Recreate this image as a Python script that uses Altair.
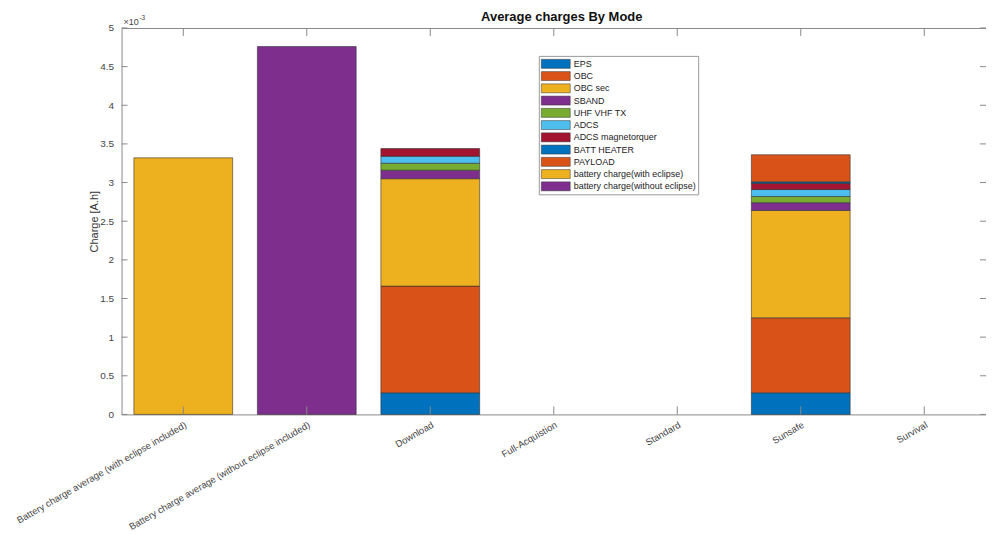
import altair as alt
import pandas as pd

# categories (x axis)
modes = [
    "Battery charge average (with eclipse included)",
    "Battery charge average (without eclipse included)",
    "Download",
    "Full-Acquistion",
    "Standard",
    "Sunsafe",
    "Survival",
]

# series names (legend order / stack order)
series = [
    "EPS", "OBC", "OBC sec", "SBAND", "UHF VHF TX", "ADCS",
    "ADCS magnetorquer", "BATT HEATER", "PAYLOAD",
    "battery charge(with eclipse)", "battery charge(without eclipse)",
]

# MATLAB default colour order (repeats after 7)
colors = [
    "#0072BD", "#D95319", "#EDB120", "#7E2F8E", "#77AC30", "#4DBEEE",
    "#A2142F", "#0072BD", "#D95319", "#EDB120", "#7E2F8E",
]

# values in units of 1e-3 A.h, one list per series, aligned with modes
eps          = [0.00, 0.00, 0.28, 0.0, 0.0, 0.28, 0.0]
obc          = [0.00, 0.00, 1.38, 0.0, 0.0, 0.97, 0.0]
obc_sec      = [0.00, 0.00, 1.39, 0.0, 0.0, 1.39, 0.0]
sband        = [0.00, 0.00, 0.11, 0.0, 0.0, 0.10, 0.0]
uhf_vhf      = [0.00, 0.00, 0.09, 0.0, 0.0, 0.08, 0.0]
adcs         = [0.00, 0.00, 0.09, 0.0, 0.0, 0.09, 0.0]
adcs_mag     = [0.00, 0.00, 0.10, 0.0, 0.0, 0.08, 0.0]
batt_heater  = [0.00, 0.00, 0.00, 0.0, 0.0, 0.02, 0.0]
payload      = [0.00, 0.00, 0.00, 0.0, 0.0, 0.35, 0.0]
batt_with    = [3.32, 0.00, 0.00, 0.0, 0.0, 0.00, 0.0]
batt_without = [0.00, 4.76, 0.00, 0.0, 0.0, 0.00, 0.0]

y_ticks = [0, 0.5, 1, 1.5, 2, 2.5, 3, 3.5, 4, 4.5, 5]

chart_title = "Average charges By Mode"
y_title = "Charge [A.h]"

all_values = [eps, obc, obc_sec, sband, uhf_vhf, adcs, adcs_mag,
              batt_heater, payload, batt_with, batt_without]

rows = []
for si, (name, vals) in enumerate(zip(series, all_values)):
    for m, v in zip(modes, vals):
        if v > 0:
            rows.append({"mode": m, "series": name, "value": v, "order": si})
df = pd.DataFrame(rows)

W, H = 868, 388
FONT = "Liberation Sans"

x_scale = alt.Scale(domain=modes, paddingInner=0.2, paddingOuter=0.1)
y_scale = alt.Scale(domain=[0, 5], nice=False, zero=True)

x_axis = alt.Axis(title=None, labelAngle=330, labelAlign="right",
                  labelBaseline="top", labelPadding=5, labelFontSize=9.5,
                  labelColor="#444444", labelFont=FONT, labelLimit=400,
                  labelOverlap=False, ticks=False, domain=False, grid=False)
y_axis = alt.Axis(title=y_title, values=y_ticks,
                  labelExpr="datum.value", labelPadding=8,
                  labelOverlap=False, labelFlush=False,
                  labelFontSize=10, labelColor="#444444",
                  labelFont=FONT, titleFont=FONT, titleFontSize=11,
                  titleFontWeight="normal", titleColor="#333333",
                  titlePadding=0, ticks=False, domain=False, grid=False)

bars = alt.Chart(df).mark_bar(stroke="#333333", strokeWidth=0.6).encode(
    x=alt.X("mode:N", scale=x_scale, sort=modes, axis=x_axis),
    y=alt.Y("value:Q", scale=y_scale, stack="zero", axis=y_axis),
    color=alt.Color("series:N",
                    scale=alt.Scale(domain=series, range=colors),
                    legend=alt.Legend(
                        title=None, orient="none", legendX=419, legendY=28,
                        symbolType="M-2.64,-0.82H2.64V0.82H-2.64Z",
                        symbolSize=121, symbolStrokeColor="#333333",
                        symbolStrokeWidth=0.5, symbolOpacity=1,
                        symbolOffset=9, labelOffset=12,
                        labelFontSize=9, labelFont=FONT,
                        labelColor="#222222", rowPadding=0.3, padding=2,
                        strokeColor="#999999", fillColor="white")),
    order=alt.Order("order:Q", sort="ascending"),
)

ytick_df = pd.DataFrame({"tick": y_ticks})
xtick_df = pd.DataFrame({"mode": modes})

ytick_left = alt.Chart(ytick_df).mark_rule(color="#888888").encode(
    y=alt.Y("tick:Q", scale=y_scale, axis=y_axis),
    x=alt.value(0), x2=alt.value(6))
ytick_right = alt.Chart(ytick_df).mark_rule(color="#888888").encode(
    y=alt.Y("tick:Q", scale=y_scale, axis=y_axis),
    x=alt.value(W - 6), x2=alt.value(W))
xtick_bottom = alt.Chart(xtick_df).mark_rule(color="#888888").encode(
    x=alt.X("mode:N", scale=x_scale, sort=modes, axis=x_axis),
    y=alt.value(H - 8), y2=alt.value(H))
xtick_top = alt.Chart(xtick_df).mark_rule(color="#888888").encode(
    x=alt.X("mode:N", scale=x_scale, sort=modes, axis=x_axis),
    y=alt.value(0), y2=alt.value(8))

exp_base = alt.Chart(pd.DataFrame({"t": ["\u00d710"]})).mark_text(
    align="left", baseline="alphabetic", fontSize=9, font=FONT,
    color="#444444").encode(text="t:N", x=alt.value(2), y=alt.value(-3))
exp_sup = alt.Chart(pd.DataFrame({"t": ["-3"]})).mark_text(
    align="left", baseline="alphabetic", fontSize=6.5, font=FONT,
    color="#444444").encode(text="t:N", x=alt.value(18), y=alt.value(-8))

title_text = alt.Chart(pd.DataFrame({"t": [chart_title]})).mark_text(
    align="center", baseline="alphabetic", fontSize=13, fontWeight="bold",
    font=FONT, color="#111111").encode(
    text="t:N", x=alt.value(W / 2 + 8), y=alt.value(-7))

chart = alt.layer(
    bars, ytick_left, ytick_right, xtick_bottom, xtick_top,
    exp_base, exp_sup, title_text
).properties(
    width=W, height=H,
    padding={"left": 114, "top": 19, "right": 0, "bottom": 119},
    autosize=alt.AutoSizeParams(type="none"),
).configure_view(
    stroke="#888888", strokeWidth=1
).configure_axis(grid=False)

chart.save("out.html", embed_options={"renderer": "svg", "actions": False})
